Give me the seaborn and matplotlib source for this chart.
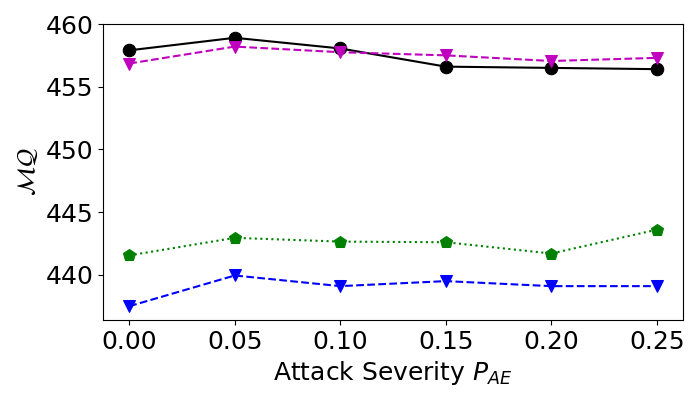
import matplotlib
matplotlib.use("Agg")
import matplotlib.pyplot as plt
import numpy as np
import pandas as pd
import seaborn as sns

# attack severity values on x
severity = [0.00, 0.05, 0.10, 0.15, 0.20, 0.25]

# MQ values per method
mq_black = [457.9, 458.9, 458.05, 456.6, 456.5, 456.4]
mq_magenta = [456.85, 458.2, 457.75, 457.5, 457.05, 457.3]
mq_green = [441.55, 442.95, 442.65, 442.6, 441.7, 443.6]
mq_blue = [437.5, 439.95, 439.1, 439.5, 439.1, 439.1]

plt.rcParams['font.size'] = 18

fig, ax = plt.subplots(figsize=(7, 4), dpi=100)
fig.subplots_adjust(left=0.147, right=0.976, bottom=0.2, top=0.94)

sns.lineplot(x=severity, y=mq_black, ax=ax, color='k', linestyle='-',
             marker='o', markersize=9, markeredgecolor='k')
sns.lineplot(x=severity, y=mq_magenta, ax=ax, color='m', linestyle='--',
             marker='v', markersize=9, markeredgecolor='m')
sns.lineplot(x=severity, y=mq_green, ax=ax, color='g', linestyle=':',
             marker='p', markersize=9, markeredgecolor='g')
sns.lineplot(x=severity, y=mq_blue, ax=ax, color='b', linestyle='--',
             marker='v', markersize=9, markeredgecolor='b')

ax.set_xticks(severity)
ax.set_xticklabels([f"{v:.2f}" for v in severity])
ax.set_yticks([440, 445, 450, 455, 460])
ax.set_ylim(436.4, 460)
ax.set_xlabel('Attack Severity $P_{AE}$')
ax.set_ylabel(r'$\mathcal{MQ}$')

fig.savefig('out.png', dpi=100)
